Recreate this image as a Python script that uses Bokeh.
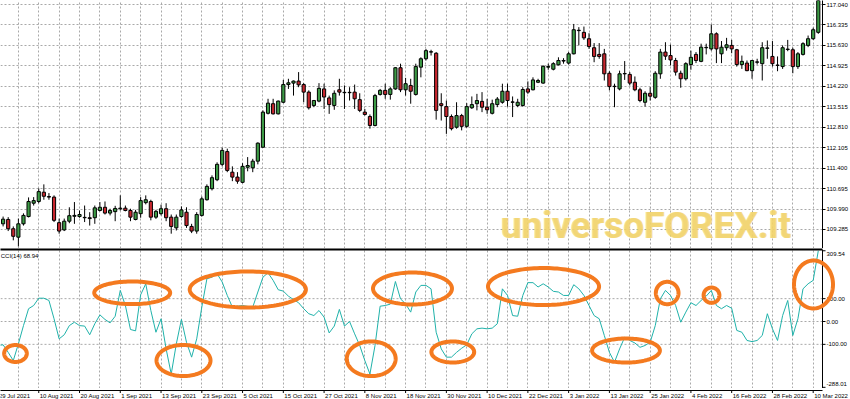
import numpy as np
from bokeh.plotting import figure
from bokeh.models import FixedTicker, PrintfTickFormatter, Range1d, Label, PolyAnnotation, LinearAxis, Span
from bokeh.layouts import column
from bokeh.core.properties import value
from bokeh.embed import file_html
from bokeh.resources import INLINE

# ---------------- data ----------------
bar_index = list(range(1, 162))
opens = [109.48, 109.63, 109.31, 109.02, 109.48, 109.73, 110.19, 110.25, 110.57, 110.42,
         110.40, 109.52, 109.27, 109.57, 109.74, 109.73, 109.69, 109.69, 109.69, 109.94,
         110.05, 109.85, 109.90, 110.00, 110.02, 109.94, 109.63, 109.83, 110.21, 110.25,
         109.71, 109.83, 110.00, 109.71, 109.34, 109.73, 109.88, 109.39, 109.23, 109.77,
         110.31, 110.69, 111.00, 111.53, 111.97, 111.26, 111.09, 110.91, 111.43, 111.41,
         111.64, 112.12, 113.29, 113.62, 113.27, 113.67, 114.28, 114.33, 114.40, 114.28,
         114.02, 113.56, 113.71, 114.13, 113.82, 113.56, 114.10, 114.00, 114.00, 114.02,
         113.76, 113.33, 113.18, 112.87, 113.94, 114.08, 113.94, 114.13, 114.86, 114.10,
         114.25, 113.94, 114.88, 115.17, 115.40, 115.36, 113.62, 113.52, 113.18, 112.81,
         113.21, 112.84, 113.48, 113.62, 113.70, 113.50, 113.29, 113.59, 113.67, 114.05,
         113.67, 113.56, 113.56, 114.13, 114.10, 114.36, 114.33, 114.88, 114.81, 114.96,
         115.09, 115.02, 115.34, 116.14, 116.08, 115.86, 115.55, 115.32, 115.34, 114.67,
         114.21, 114.13, 114.65, 114.63, 114.36, 114.10, 113.67, 113.98, 113.84, 114.65,
         115.40, 115.28, 115.11, 114.67, 114.48, 114.97, 115.32, 115.08, 115.55, 115.51,
         116.03, 115.34, 115.55, 115.63, 115.48, 114.97, 115.02, 114.76, 115.05, 115.00,
         115.53, 115.25, 114.94, 114.90, 115.49, 115.48, 114.90, 115.32, 115.63, 115.86,
         116.08]
highs = [109.73, 109.71, 109.39, 109.66, 109.84, 110.39, 110.40, 110.70, 110.84, 110.54,
         110.46, 109.66, 109.66, 110.05, 110.23, 109.94, 110.11, 109.88, 110.11, 110.23,
         110.25, 110.00, 110.10, 110.46, 110.11, 110.00, 109.96, 110.40, 110.46, 110.31,
         109.96, 110.14, 110.19, 109.80, 109.80, 110.08, 110.05, 109.48, 109.88, 110.42,
         110.84, 111.15, 111.60, 112.10, 112.07, 111.46, 111.26, 111.57, 111.78, 111.72,
         112.29, 113.39, 113.79, 113.79, 113.73, 114.44, 114.48, 114.42, 114.71, 114.33,
         114.08, 113.75, 114.33, 114.31, 113.90, 114.08, 114.48, 114.25, 114.19, 114.28,
         113.98, 113.44, 113.25, 113.96, 114.13, 114.31, 114.19, 114.88, 115.00, 114.51,
         114.48, 115.00, 115.22, 115.51, 115.48, 115.40, 113.98, 113.73, 113.25, 113.67,
         113.27, 113.64, 113.87, 113.96, 114.02, 113.79, 113.76, 113.85, 114.31, 114.31,
         113.87, 113.79, 114.19, 114.39, 114.53, 114.48, 114.94, 115.00, 115.05, 115.22,
         115.19, 115.40, 116.37, 116.26, 116.28, 116.05, 115.71, 115.71, 115.51, 114.74,
         114.31, 114.76, 115.09, 114.71, 114.56, 114.17, 114.05, 114.19, 114.74, 115.51,
         115.74, 115.66, 115.20, 114.76, 115.05, 115.45, 115.40, 115.69, 115.69, 116.35,
         116.08, 115.78, 115.89, 115.82, 115.51, 115.28, 115.11, 115.13, 115.17, 115.74,
         115.80, 115.78, 115.25, 115.63, 115.82, 115.55, 115.40, 115.74, 115.97, 116.24,
         117.30]
lows = [109.39, 109.23, 108.91, 108.70, 109.42, 109.70, 110.11, 110.19, 110.31, 110.31,
        109.54, 109.14, 109.23, 109.50, 109.48, 109.69, 109.54, 109.42, 109.48, 109.91,
        109.80, 109.77, 109.57, 109.94, 109.91, 109.57, 109.60, 109.69, 110.15, 109.60,
        109.65, 109.77, 109.57, 109.14, 109.25, 109.69, 109.34, 109.16, 109.14, 109.73,
        110.28, 110.63, 110.95, 111.46, 111.26, 110.95, 110.86, 110.88, 111.29, 111.26,
        111.53, 112.10, 113.25, 113.25, 113.25, 113.64, 114.13, 113.90, 114.19, 113.67,
        113.42, 113.50, 113.67, 113.44, 113.27, 113.41, 113.90, 113.44, 113.73, 113.44,
        113.33, 113.21, 112.76, 112.84, 113.90, 113.79, 113.76, 114.10, 114.02, 113.90,
        113.62, 113.90, 114.53, 115.11, 115.28, 113.07, 113.04, 112.58, 112.70, 112.76,
        112.70, 112.79, 113.44, 113.39, 113.33, 113.27, 113.25, 113.50, 113.62, 113.52,
        113.16, 113.50, 113.52, 113.96, 114.08, 114.33, 114.31, 114.79, 114.77, 114.94,
        115.00, 114.97, 115.32, 115.63, 115.82, 115.51, 115.05, 115.17, 114.42, 114.08,
        113.50, 114.08, 114.44, 114.25, 114.05, 113.67, 113.52, 113.73, 113.79, 114.48,
        115.13, 114.94, 114.59, 114.17, 114.42, 114.79, 115.02, 115.05, 115.32, 115.45,
        115.02, 115.02, 115.45, 115.36, 114.90, 114.82, 114.74, 114.48, 114.97, 114.42,
        115.17, 114.90, 114.74, 114.82, 115.43, 114.67, 114.82, 115.28, 115.57, 115.82,
        116.03]
closes = [109.64, 109.31, 109.05, 109.48, 109.77, 110.25, 110.28, 110.59, 110.43, 110.40,
          109.60, 109.23, 109.57, 109.76, 109.77, 109.80, 109.69, 109.66, 110.03, 110.05,
          109.85, 109.94, 110.01, 110.02, 109.94, 109.71, 109.88, 110.28, 110.31, 109.71,
          109.91, 110.00, 109.69, 109.39, 109.71, 109.96, 109.42, 109.23, 109.80, 110.34,
          110.77, 111.07, 111.53, 112.01, 111.32, 111.09, 110.95, 111.46, 111.49, 111.64,
          112.26, 113.33, 113.64, 113.27, 113.71, 114.28, 114.34, 114.40, 114.27, 114.02,
          113.48, 113.73, 114.15, 113.85, 113.59, 113.98, 114.02, 114.00, 114.00, 113.79,
          113.39, 113.25, 112.87, 113.90, 114.08, 113.94, 114.13, 114.86, 114.10, 114.31,
          114.05, 114.90, 115.17, 115.45, 115.40, 113.39, 113.56, 113.18, 112.76, 113.21,
          112.84, 113.52, 113.59, 113.73, 113.50, 113.41, 113.62, 113.78, 114.05, 113.73,
          113.67, 113.67, 114.11, 114.02, 114.44, 114.42, 114.91, 114.90, 115.00, 115.11,
          115.11, 115.34, 116.17, 116.14, 115.89, 115.59, 115.25, 115.25, 114.65, 114.21,
          114.21, 114.65, 114.65, 114.33, 114.10, 113.73, 113.98, 113.88, 114.67, 115.40,
          115.26, 115.13, 114.71, 114.48, 115.00, 115.22, 115.11, 115.57, 115.55, 116.03,
          115.51, 115.57, 115.65, 115.51, 114.97, 115.08, 114.76, 115.11, 115.05, 115.55,
          115.53, 115.00, 114.94, 115.55, 115.49, 114.90, 115.34, 115.69, 115.86, 116.17,
          117.25]

cci_index = list(range(0, 162))
cci = [-105, -102, -135, -171, -98, -18, 56, 70, 102, 102,
       92, 12, -76, -58, -18, -3, -18, -20, -58, -10,
       29, 9, -6, 23, 136, 70, -35, -41, 117, 165,
       48, -47, 12, -120, -230, -98, 9, -91, -156, -76,
       63, 187, 194, 209, 173, 114, 63, 67, 70, 66,
       63, 129, 194, 213, 180, 139, 133, 111, 96, 82,
       56, 34, 26, 48, 19, -50, -20, 53, -20, 0,
       -54, -105, -171, -230, -105, 67, 70, 76, 175, 99,
       77, 41, 129, 158, 158, 143, -47, -120, -156, -156,
       -135, -117, -102, -54, -32, -29, -32, -29, -10, 143,
       114, 26, 23, 114, 170, 170, 151, 165, 151, 132,
       129, 114, 114, 161, 143, 114, 70, 26, 12, -61,
       -135, -178, -120, -69, -83, -94, -113, -105, -91, -18,
       99, 136, 114, 70, -3, 41, 82, 70, 92, 111,
       136, 70, 56, 70, 58, -39, -47, -83, -88, -83,
       -61, 34, -32, -83, 26, 92, -61, 12, 143, 165,
       180, 309.54]

date_ticks = list(range(0, 161, 8))
date_labels = ["29 Jul 2021", "10 Aug 2021", "20 Aug 2021", "1 Sep 2021", "13 Sep 2021",
               "23 Sep 2021", "5 Oct 2021", "15 Oct 2021", "27 Oct 2021", "8 Nov 2021",
               "18 Nov 2021", "30 Nov 2021", "10 Dec 2021", "22 Dec 2021", "3 Jan 2022",
               "13 Jan 2022", "25 Jan 2022", "4 Feb 2022", "16 Feb 2022", "28 Feb 2022",
               "10 Mar 2022"]
price_ticks = [117.040, 116.335, 115.630, 114.925, 114.220, 113.515,
               112.810, 112.105, 111.400, 110.695, 109.990, 109.285]
cci_ticks = [309.54, 100.0, 0.0, -100.0, -288.01]
cci_tick_labels = ["309.54", "100.00", "0.00", "-100.00", "-288.01"]
cci_grid_levels = [100.0, 0.0, -100.0]
cci_title = "CCI(14) 68.94"
watermark = "universoFOREX.it"

# highlighted zones on the CCI (centre bar, centre value, width in bars, height in CCI units)
ell_x = [3.43, 26.34, 36.41, 49.03, 73.25, 81.35, 89.26, 107.07, 123.26, 131.34, 140.04, 160.06]
ell_y = [-140, 125.6, -170.7, 140, -163, 144.4, -133.5, 153, -127, 124.7, 115, 162]
ell_w = [4.45, 14.9, 10.6, 22.8, 9.6, 15.5, 8.4, 21.8, 13.3, 4.45, 3.1, 7.65]
ell_h = [74, 99, 136, 158, 152, 140, 92, 162, 105, 98, 67, 210]

# ---------------- layout constants ----------------
PX_PER_BAR = 5.095
BAR0_PX = -2.5
FRAME_W = 822
FULL_W = 850
X_START = -BAR0_PX / PX_PER_BAR
X_END = X_START + FRAME_W / PX_PER_BAR          # position of the price-scale line
X_FULL = X_START + FULL_W / PX_PER_BAR
GRID_BARS = list(range(0, 161, 4))

UP = "#3c9a45"
DOWN = "#c8262e"
GRID = "#a9a9a9"
FONT = "Liberation Sans"
ORANGE = "#f47a1f"


def style_common(p):
    p.outline_line_color = None
    p.background_fill_color = "white"
    p.border_fill_color = "white"
    p.min_border_left = 0
    p.min_border_right = 0
    p.min_border_bottom = 0


def no_label_axis(**kw):
    return LinearAxis(ticker=FixedTicker(ticks=[]), axis_line_color="black",
                      major_tick_out=0, major_tick_in=0, minor_tick_out=0, minor_tick_in=0,
                      major_label_standoff=0, bounds=(X_START, X_END), **kw)


# ---------------- price panel ----------------
p1 = figure(frame_width=FRAME_W, frame_height=248,
            x_range=Range1d(X_START, X_END), y_range=Range1d(108.629, 117.178),
            x_axis_location=None, y_axis_location="right",
            toolbar_location=None, output_backend="svg")
style_common(p1)
p1.min_border_top = 0
ax = p1.yaxis[0]
ax.ticker = FixedTicker(ticks=price_ticks)
ax.formatter = PrintfTickFormatter(format="%.3f")
ax.major_label_text_font = FONT
ax.major_label_text_font_size = "6px"
ax.major_label_text_color = "black"
ax.major_tick_out = 3
ax.major_tick_in = 0
ax.minor_tick_out = 0
ax.minor_tick_in = 0
ax.major_label_standoff = 1
ax.axis_line_color = "black"
ax.major_tick_line_color = "black"
p1.xgrid.ticker = FixedTicker(ticks=GRID_BARS)
p1.grid.grid_line_color = GRID
p1.grid.grid_line_dash = "2 2"

for dx in (0, 1.2):
    p1.add_layout(Label(x=98.6, y=109.42, x_offset=dx, text=watermark, text_font="Roboto",
                        text_font_style="bold", text_font_size="37px", text_color="#f2d36b",
                        text_alpha=0.72, text_baseline="alphabetic", level="underlay"))

body_top = [max(o, c) for o, c in zip(opens, closes)]
body_bot = [min(o, c) for o, c in zip(opens, closes)]
body_top = [t if t - b > 0.012 else b + 0.012 for t, b in zip(body_top, body_bot)]
colors = [UP if c >= o else DOWN for o, c in zip(opens, closes)]
p1.segment(x0=bar_index, y0=lows, x1=bar_index, y1=highs, line_color="black", line_width=1)
p1.vbar(x=bar_index, width=0.62, top=body_top, bottom=body_bot,
        fill_color=colors, line_color="black", line_width=1)

# ---------------- CCI panel (frame runs to the page edge, scale drawn by hand) ----------------
p2 = figure(frame_width=FULL_W, frame_height=139,
            x_range=Range1d(X_START, X_FULL), y_range=Range1d(-293.2, 315.1),
            x_axis_location=None, y_axis_location=None,
            toolbar_location=None, output_backend="svg")
style_common(p2)
p2.min_border_top = 1
p2.ygrid.visible = False
p2.xgrid.ticker = FixedTicker(ticks=GRID_BARS)
p2.xgrid.grid_line_color = GRID
p2.xgrid.grid_line_dash = "2 2"
p2.add_layout(no_label_axis(axis_line_width=2), "above")

# horizontal grid lines stop at the scale line
p2.segment(x0=[X_START] * len(cci_grid_levels), y0=cci_grid_levels,
           x1=[X_END] * len(cci_grid_levels), y1=cci_grid_levels,
           line_color=GRID, line_dash="2 2", line_width=1)
p2.add_layout(Span(location=X_END, dimension="height", line_color="black", line_width=1))
p2.segment(x0=[X_END] * len(cci_ticks), y0=cci_ticks,
           x1=[X_END + 3 / PX_PER_BAR] * len(cci_ticks), y1=cci_ticks,
           line_color="black", line_width=1)
edge_shift = [3 if i == 0 else (-3 if i == len(cci_ticks) - 1 else 0) for i in range(len(cci_ticks))]
p2.text(x=[X_END + 4 / PX_PER_BAR] * len(cci_ticks), y=cci_ticks, text=cci_tick_labels,
        y_offset=edge_shift, text_align="left", text_baseline="middle",
        text_font=value(FONT), text_font_size="6px", text_color="black")

p2.line(cci_index, cci, line_color="#20b2aa", line_width=1)

t = np.linspace(0, 2 * np.pi, 120)
for cx, cy, w, h in zip(ell_x, ell_y, ell_w, ell_h):
    p2.add_layout(PolyAnnotation(xs=list(cx + w / 2 * np.cos(t)), ys=list(cy + h / 2 * np.sin(t)),
                                 xs_units="data", ys_units="data",
                                 fill_color=None, fill_alpha=0,
                                 line_color=ORANGE, line_alpha=1.0, line_width=4))

p2.add_layout(Label(x=X_START + 0.05, y=284.5, text=cci_title, text_font=FONT,
                    text_font_size="6px", text_color="black", text_baseline="middle"))

# ---------------- date strip ----------------
p3 = figure(frame_width=FULL_W, frame_height=10,
            x_range=p2.x_range, y_range=Range1d(0, 10),
            x_axis_location=None, y_axis_location=None,
            toolbar_location=None, output_backend="svg")
style_common(p3)
p3.min_border_top = 1
p3.xgrid.visible = False
p3.ygrid.visible = False
p3.add_layout(no_label_axis(axis_line_width=1), "above")
p3.segment(x0=date_ticks, y0=[10] * len(date_ticks), x1=date_ticks, y1=[7.5] * len(date_ticks),
           line_color="black", line_width=1)
p3.text(x=date_ticks, y=[5] * len(date_ticks), text=date_labels,
        text_align="left", text_baseline="middle", x_offset=1,
        text_font=value(FONT), text_font_size="6px", text_color="black")

layout = column(p1, p2, p3, spacing=0)
open("out.html", "w").write(file_html(layout, INLINE))
